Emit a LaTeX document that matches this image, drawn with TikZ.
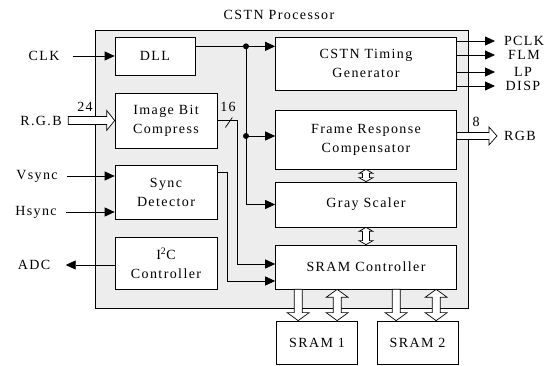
\documentclass[tikz,border=0pt]{standalone}
\usepackage{fontspec}
\setmainfont{Liberation Serif}[LetterSpace=10]
\usetikzlibrary{positioning, arrows.meta, calc}

\tikzset{
  blk/.style={draw, fill=white, align=center, inner sep=0pt, line width=0.7pt},
  sig/.style={-{Triangle[length=10pt,width=9pt]}, line width=0.8pt},
  hollow/.style={draw, fill=white, line width=0.7pt, line join=miter},
}

% hollow (block) arrows, sizes in \fathead / \fatshaft / \fatlen
\def\fathead{10pt}
\def\fatshaft{4pt}
\def\fatlen{8pt}
\newcommand{\fatright}[2]{%
  \draw[hollow] let \p1=#1, \p2=#2 in
    (\x1,\y1+\fatshaft) -- (\x2-\fatlen,\y1+\fatshaft) -- (\x2-\fatlen,\y1+\fathead)
    -- (\x2,\y1) -- (\x2-\fatlen,\y1-\fathead) -- (\x2-\fatlen,\y1-\fatshaft)
    -- (\x1,\y1-\fatshaft) -- cycle;}
\newcommand{\fatdown}[2]{%
  \draw[hollow] let \p1=#1, \p2=#2 in
    (\x1-\fatshaft,\y1) -- (\x1-\fatshaft,\y2+\fatlen) -- (\x1-\fathead,\y2+\fatlen)
    -- (\x1,\y2) -- (\x1+\fathead,\y2+\fatlen) -- (\x1+\fatshaft,\y2+\fatlen)
    -- (\x1+\fatshaft,\y1) -- cycle;}
\newcommand{\fatboth}[2]{%
  \draw[hollow] let \p1=#1, \p2=#2 in
    (\x1,\y1) -- (\x1+\fathead,\y1-\fatlen) -- (\x1+\fatshaft,\y1-\fatlen)
    -- (\x1+\fatshaft,\y2+\fatlen) -- (\x1+\fathead,\y2+\fatlen) -- (\x1,\y2)
    -- (\x1-\fathead,\y2+\fatlen) -- (\x1-\fatshaft,\y2+\fatlen)
    -- (\x1-\fatshaft,\y1-\fatlen) -- (\x1-\fathead,\y1-\fatlen) -- cycle;}

\begin{document}
\begin{tikzpicture}[x=1pt, y=-1pt, font=\fontsize{14}{19}\selectfont]
  \useasboundingbox (0,0) rectangle (558,366);

  % ---------- processor frame ----------
  \node[draw, fill=black!7, line width=0.7pt, inner sep=0pt,
        minimum width=373pt, minimum height=278pt] (proc) at (281.5,169) {};
  \node (title) at (279,15) {CSTN Processor};

  % ---------- left blocks ----------
  \node[blk, minimum width=80pt,  minimum height=38pt] (dll)  at (155,56)    {DLL};
  \node[blk, minimum width=102pt, minimum height=55pt] (ibc)  at (166,120.5) {Image Bit\\Compress};
  \node[blk, minimum width=102pt, minimum height=54pt] (sync) at (166,192)   {Sync\\Detector};
  \node[blk, minimum width=102pt, minimum height=52pt] (i2c)  at (166,263)   {I\textsuperscript{2}C\\Controller};

  % ---------- right blocks ----------
  \node[blk, minimum width=181pt, minimum height=53pt] (tgen)    at (366,63.5)  {CSTN Timing\\Generator};
  \node[blk, minimum width=181pt, minimum height=59pt] (frc)     at (366,139.5) {Frame Response\\Compensator};
  \node[blk, minimum width=181pt, minimum height=45pt] (gray)    at (366,204.5) {Gray Scaler};
  \node[blk, minimum width=181pt, minimum height=44pt] (sramctl) at (366,267)   {SRAM Controller};
  \node[blk, minimum width=81pt,  minimum height=43pt] (sram1)   at (317,342.5) {SRAM 1};
  \node[blk, minimum width=81pt,  minimum height=43pt] (sram2)   at (417.5,342.5) {SRAM 2};

  % ---------- pin labels ----------
  \node (clk)   at (44,56)   {CLK};
  \node (rgbin) at (41,120.5) {R.G.B};
  \node (vsync) at (37,176)  {Vsync};
  \node (hsync) at (36,212)  {Hsync};
  \node (adc)   at (34,265)  {ADC};
  \node[inner sep=0pt] (pclk)  at (524,41)  {PCLK};
  \node[inner sep=0pt] (flm)   at (524,55)  {FLM};
  \node (lp)    at (523,72)  {LP};
  \node (disp)  at (523,86)  {DISP};
  \node (rgbout) at (520,136) {RGB};
  \node (w24) at (85,107)  {24};
  \node (w16) at (228,107) {16};
  \node (w8)  at (476,122) {8};

  % ---------- inputs ----------
  \draw[sig, shorten <=10pt] (clk) -- (dll);
  \fatright{($(rgbin.east)+(3,0)$)}{(ibc.west)}
  \draw[sig, shorten <=6pt] (vsync.east) -- (vsync.east -| sync.west);
  \draw[sig, shorten <=6pt] (hsync.east) -- (hsync.east -| sync.west);
  \draw[sig, shorten >=12pt] (adc -| i2c.west) -- (adc.east);

  % ---------- clock bus ----------
  \coordinate (bus) at (246,0);
  \coordinate (outx) at (495,0);
  \coordinate (dllout) at ($(dll.north east)!0.25!(dll.south east)$);
  \coordinate (j1) at (dllout -| bus);
  \coordinate (j2) at ($(bus |- frc)+(0,-3.5)$);
  \draw[sig] (dllout) -- (dllout -| tgen.west);
  \draw[sig] (j1) |- (gray);
  \draw[sig] (j2) -- (j2 -| frc.west);
  \fill (j1) circle (3pt);
  \fill (j2) circle (3pt);

  % ---------- data paths to SRAM controller ----------
  \draw[sig] (ibc.east) -- ++(20,0) |- ($(sramctl.west)+(0,-3)$);
  \draw[sig] ($(sync.north east)+(0,8)$) -- ++(10,0) |- ($(sramctl.west)+(0,14)$);
  \draw[line width=0.7pt] ($(ibc.east)+(8,7)$) -- ++(7,-10);

  % ---------- timing outputs ----------
  \draw[sig] (pclk -| tgen.east) -- (pclk -| outx);
  \draw[sig] (flm -| tgen.east)  -- (flm -| outx);
  \draw[sig] (lp -| tgen.east)   -- (lp -| outx);
  \draw[sig] (disp -| tgen.east) -- (disp -| outx);
  \def\fathead{9pt}\def\fatshaft{3.5pt}
  \fatright{(rgbout -| frc.east)}{($(rgbout -| outx)+(2,0)$)}

  % ---------- pipeline links ----------
  \def\fathead{7pt}\def\fatshaft{3.5pt}\def\fatlen{4pt}
  \fatboth{(frc.south)}{(gray.north)}
  \fatboth{(gray.south)}{(sramctl.north)}

  % ---------- memory ports ----------
  \def\fathead{11pt}\def\fatshaft{4pt}\def\fatlen{8pt}
  \fatdown{($(sramctl.south west)+(23,0)$)}{($(sram1.north west)+(23,0)$)}
  \fatboth{($(sramctl.south west)+(62,0)$)}{($(sram1.north west)+(62,0)$)}
  \fatdown{($(sramctl.south west)+(121,0)$)}{($(sram1.north west)+(121,0)$)}
  \fatboth{($(sramctl.south west)+(161,0)$)}{($(sram1.north west)+(161,0)$)}

\end{tikzpicture}
\end{document}
